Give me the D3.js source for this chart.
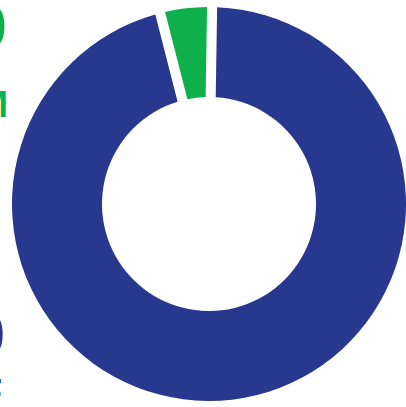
<!DOCTYPE html>
<html>
<head>
<meta charset="utf-8">
<script src="https://cdn.jsdelivr.net/npm/d3@7"></script>
<style>
html,body{margin:0;padding:0;background:#fff;overflow:hidden;}
svg{display:block;}
</style>
</head>
<body>
<svg id="chart" width="406" height="407"></svg>
<script>
const categories = ["F", "M"];
const values = [270, 10];
const labels = ["270", "10"];
const colors = ["#28388f", "#0db04b"];

const svg = d3.select("#chart");
const cx = 209, cy = 204, outerR = 197, innerR = 107;

const pie = d3.pie().sort(null).value(d => d)
  .startAngle(0.0157).endAngle(0.0157 + 2 * Math.PI).padAngle(0.045);
const arc = d3.arc().innerRadius(innerR).outerRadius(outerR);

const g = svg.append("g").attr("transform", `translate(${cx},${cy})`);
g.selectAll("path").data(pie(values)).join("path")
  .attr("d", arc)
  .attr("fill", (d, i) => colors[i]);

// Legend labels (partially cut off at the left edge)
const legend = [
  {num: labels[1], cat: categories[1], color: colors[1], numX: 7, numY: 47, catX: 8, catY: 117},
  {num: labels[0], cat: categories[0], color: colors[0], numX: 5, numY: 355, catX: 2, catY: 405}
];
legend.forEach(l => {
  svg.append("text").attr("x", l.numX).attr("y", l.numY)
    .attr("text-anchor", "end").attr("fill", l.color)
    .attr("font-family", "Liberation Sans, Arial, sans-serif")
    .attr("font-weight", "bold").attr("font-size", 60).text(l.num);
  svg.append("text").attr("x", l.catX).attr("y", l.catY)
    .attr("text-anchor", "end").attr("fill", l.color)
    .attr("font-family", "Liberation Sans, Arial, sans-serif")
    .attr("font-weight", "bold").attr("font-size", 37).text(l.cat);
});
</script>
</body>
</html>
